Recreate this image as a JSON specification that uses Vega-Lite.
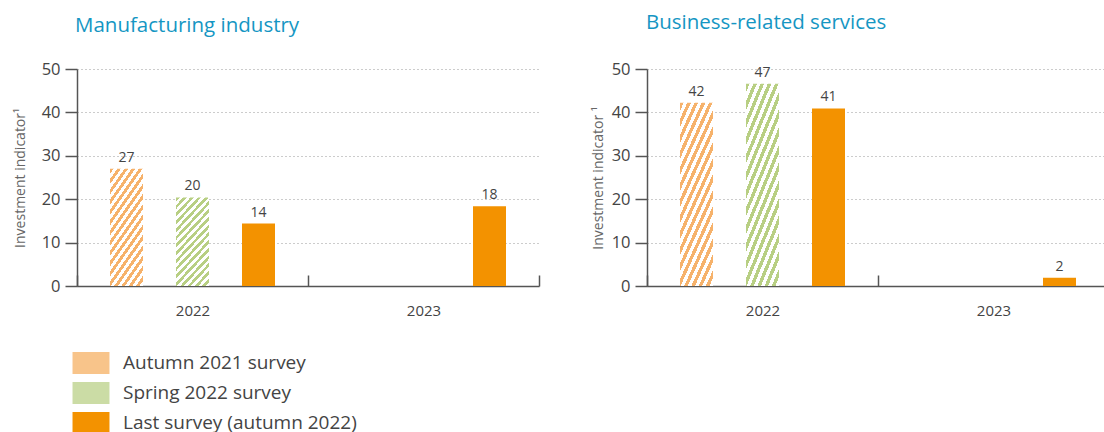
{
  "$schema": "https://vega.github.io/schema/vega-lite/v6.json",
  "padding": {"left": 13, "top": 12, "right": 0, "bottom": 0},
  "background": "white",
  "data": {"values": [
    {"panel": "Manufacturing industry", "year": "2022", "survey": "Autumn 2021 survey", "value": 27},
    {"panel": "Manufacturing industry", "year": "2022", "survey": "Spring 2022 survey", "value": 20.4},
    {"panel": "Manufacturing industry", "year": "2022", "survey": "Last survey (autumn 2022)", "value": 14.4},
    {"panel": "Manufacturing industry", "year": "2023", "survey": "Last survey (autumn 2022)", "value": 18.4},
    {"panel": "Business-related services", "year": "2022", "survey": "Autumn 2021 survey", "value": 42.2},
    {"panel": "Business-related services", "year": "2022", "survey": "Spring 2022 survey", "value": 46.6},
    {"panel": "Business-related services", "year": "2022", "survey": "Last survey (autumn 2022)", "value": 40.9},
    {"panel": "Business-related services", "year": "2023", "survey": "Last survey (autumn 2022)", "value": 1.9}
  ]},
  "config": {
    "font": "Open Sans",
    "view": {"stroke": null},
    "concat": {"spacing": 51},
    "title": {"anchor": "start", "frame": "group", "fontSize": 20.5, "color": "#1596c3", "fontWeight": "normal", "font": "Open Sans", "offset": 25},
    "axisX": {"title": null, "labelAngle": 0, "tickBand": "extent", "tickSize": -11, "tickColor": "#555", "tickWidth": 1.5, "domainColor": "#555", "domainWidth": 1.5, "labelFontSize": 15, "labelColor": "#444", "labelPadding": 28, "grid": false},
    "axisY": {"values": [0, 10, 20, 30, 40, 50], "grid": true, "gridDash": [1, 3], "gridColor": "#999", "gridWidth": 1, "domainColor": "#555", "domainWidth": 1.5, "tickColor": "#555", "tickSize": 12, "tickWidth": 1.5, "labelFontSize": 16.5, "labelColor": "#444", "labelPadding": 5, "titleFontSize": 14, "titleFontWeight": "normal", "titleColor": "#666"},
    "legend": {"orient": "none", "legendX": 3, "legendY": 283, "direction": "vertical", "title": null, "labelFontSize": 19, "labelColor": "#444", "labelFont": "Open Sans", "symbolType": "M-1.68,-1L1.68,-1L1.68,1L-1.68,1Z", "symbolSize": 484, "rowPadding": 8, "labelOffset": 21, "symbolStrokeWidth": 0, "labelLimit": 400}
  },
  "hconcat": [
    {
      "title": {"text": "Manufacturing industry", "dx": -2},
      "width": 462, "height": 217,
      "transform": [{"filter": "datum.panel === 'Manufacturing industry'"}],
      "encoding": {
        "x": {"field": "year", "type": "nominal", "scale": {"paddingInner": 0, "paddingOuter": 0}},
        "xOffset": {"field": "survey", "type": "nominal", "scale": {"domain": ["Autumn 2021 survey", "Spring 2022 survey", "Last survey (autumn 2022)"], "paddingInner": 0.5, "paddingOuter": 0.5}},
        "y": {"field": "value", "type": "quantitative", "scale": {"domain": [0, 50]}, "axis": {"title": "Investment indicator¹", "titlePadding": 14}}
      },
      "layer": [
        {"mark": {"type": "bar", "opacity": 0},
         "encoding": {"color": {"field": "survey", "type": "nominal",
           "scale": {"domain": ["Autumn 2021 survey", "Spring 2022 survey", "Last survey (autumn 2022)"], "range": ["#f8c48a", "#cbdca5", "#f39200"]},
           "legend": {"symbolOpacity": 1}}}},
        {"transform": [{"filter": "datum.survey === 'Autumn 2021 survey'"}],
         "mark": {"type": "bar", "color": {"gradient": "linear", "x1": 0, "y1": 0, "x2": 0.483, "y2": 1.207, "stops": [{"offset":0,"color":"#f6b26b"},{"offset":0.03125,"color":"#f6b26b"},{"offset":0.03125,"color":"#ffffff"},{"offset":0.0625,"color":"#ffffff"},{"offset":0.0625,"color":"#f6b26b"},{"offset":0.09375,"color":"#f6b26b"},{"offset":0.09375,"color":"#ffffff"},{"offset":0.125,"color":"#ffffff"},{"offset":0.125,"color":"#f6b26b"},{"offset":0.15625,"color":"#f6b26b"},{"offset":0.15625,"color":"#ffffff"},{"offset":0.1875,"color":"#ffffff"},{"offset":0.1875,"color":"#f6b26b"},{"offset":0.21875,"color":"#f6b26b"},{"offset":0.21875,"color":"#ffffff"},{"offset":0.25,"color":"#ffffff"},{"offset":0.25,"color":"#f6b26b"},{"offset":0.28125,"color":"#f6b26b"},{"offset":0.28125,"color":"#ffffff"},{"offset":0.3125,"color":"#ffffff"},{"offset":0.3125,"color":"#f6b26b"},{"offset":0.34375,"color":"#f6b26b"},{"offset":0.34375,"color":"#ffffff"},{"offset":0.375,"color":"#ffffff"},{"offset":0.375,"color":"#f6b26b"},{"offset":0.40625,"color":"#f6b26b"},{"offset":0.40625,"color":"#ffffff"},{"offset":0.4375,"color":"#ffffff"},{"offset":0.4375,"color":"#f6b26b"},{"offset":0.46875,"color":"#f6b26b"},{"offset":0.46875,"color":"#ffffff"},{"offset":0.5,"color":"#ffffff"},{"offset":0.5,"color":"#f6b26b"},{"offset":0.53125,"color":"#f6b26b"},{"offset":0.53125,"color":"#ffffff"},{"offset":0.5625,"color":"#ffffff"},{"offset":0.5625,"color":"#f6b26b"},{"offset":0.59375,"color":"#f6b26b"},{"offset":0.59375,"color":"#ffffff"},{"offset":0.625,"color":"#ffffff"},{"offset":0.625,"color":"#f6b26b"},{"offset":0.65625,"color":"#f6b26b"},{"offset":0.65625,"color":"#ffffff"},{"offset":0.6875,"color":"#ffffff"},{"offset":0.6875,"color":"#f6b26b"},{"offset":0.71875,"color":"#f6b26b"},{"offset":0.71875,"color":"#ffffff"},{"offset":0.75,"color":"#ffffff"},{"offset":0.75,"color":"#f6b26b"},{"offset":0.78125,"color":"#f6b26b"},{"offset":0.78125,"color":"#ffffff"},{"offset":0.8125,"color":"#ffffff"},{"offset":0.8125,"color":"#f6b26b"},{"offset":0.84375,"color":"#f6b26b"},{"offset":0.84375,"color":"#ffffff"},{"offset":0.875,"color":"#ffffff"},{"offset":0.875,"color":"#f6b26b"},{"offset":0.90625,"color":"#f6b26b"},{"offset":0.90625,"color":"#ffffff"},{"offset":0.9375,"color":"#ffffff"},{"offset":0.9375,"color":"#f6b26b"},{"offset":0.96875,"color":"#f6b26b"},{"offset":0.96875,"color":"#ffffff"},{"offset":1,"color":"#ffffff"}]}}},
        {"transform": [{"filter": "datum.survey === 'Spring 2022 survey'"}],
         "mark": {"type": "bar", "color": {"gradient": "linear", "x1": 0, "y1": 0, "x2": 0.483, "y2": 1.207, "stops": [{"offset":0,"color":"#b8cf83"},{"offset":0.03125,"color":"#b8cf83"},{"offset":0.03125,"color":"#ffffff"},{"offset":0.0625,"color":"#ffffff"},{"offset":0.0625,"color":"#b8cf83"},{"offset":0.09375,"color":"#b8cf83"},{"offset":0.09375,"color":"#ffffff"},{"offset":0.125,"color":"#ffffff"},{"offset":0.125,"color":"#b8cf83"},{"offset":0.15625,"color":"#b8cf83"},{"offset":0.15625,"color":"#ffffff"},{"offset":0.1875,"color":"#ffffff"},{"offset":0.1875,"color":"#b8cf83"},{"offset":0.21875,"color":"#b8cf83"},{"offset":0.21875,"color":"#ffffff"},{"offset":0.25,"color":"#ffffff"},{"offset":0.25,"color":"#b8cf83"},{"offset":0.28125,"color":"#b8cf83"},{"offset":0.28125,"color":"#ffffff"},{"offset":0.3125,"color":"#ffffff"},{"offset":0.3125,"color":"#b8cf83"},{"offset":0.34375,"color":"#b8cf83"},{"offset":0.34375,"color":"#ffffff"},{"offset":0.375,"color":"#ffffff"},{"offset":0.375,"color":"#b8cf83"},{"offset":0.40625,"color":"#b8cf83"},{"offset":0.40625,"color":"#ffffff"},{"offset":0.4375,"color":"#ffffff"},{"offset":0.4375,"color":"#b8cf83"},{"offset":0.46875,"color":"#b8cf83"},{"offset":0.46875,"color":"#ffffff"},{"offset":0.5,"color":"#ffffff"},{"offset":0.5,"color":"#b8cf83"},{"offset":0.53125,"color":"#b8cf83"},{"offset":0.53125,"color":"#ffffff"},{"offset":0.5625,"color":"#ffffff"},{"offset":0.5625,"color":"#b8cf83"},{"offset":0.59375,"color":"#b8cf83"},{"offset":0.59375,"color":"#ffffff"},{"offset":0.625,"color":"#ffffff"},{"offset":0.625,"color":"#b8cf83"},{"offset":0.65625,"color":"#b8cf83"},{"offset":0.65625,"color":"#ffffff"},{"offset":0.6875,"color":"#ffffff"},{"offset":0.6875,"color":"#b8cf83"},{"offset":0.71875,"color":"#b8cf83"},{"offset":0.71875,"color":"#ffffff"},{"offset":0.75,"color":"#ffffff"},{"offset":0.75,"color":"#b8cf83"},{"offset":0.78125,"color":"#b8cf83"},{"offset":0.78125,"color":"#ffffff"},{"offset":0.8125,"color":"#ffffff"},{"offset":0.8125,"color":"#b8cf83"},{"offset":0.84375,"color":"#b8cf83"},{"offset":0.84375,"color":"#ffffff"},{"offset":0.875,"color":"#ffffff"},{"offset":0.875,"color":"#b8cf83"},{"offset":0.90625,"color":"#b8cf83"},{"offset":0.90625,"color":"#ffffff"},{"offset":0.9375,"color":"#ffffff"},{"offset":0.9375,"color":"#b8cf83"},{"offset":0.96875,"color":"#b8cf83"},{"offset":0.96875,"color":"#ffffff"},{"offset":1,"color":"#ffffff"}]}}},
        {"transform": [{"filter": "datum.survey === 'Last survey (autumn 2022)'"}],
         "mark": {"type": "bar", "color": "#f39200"}},
        {"mark": {"type": "text", "dy": -7, "baseline": "alphabetic", "fontSize": 14, "color": "#444"},
         "encoding": {"text": {"field": "value", "type": "quantitative", "format": ".0f"}}}
      ]
    },
    {
      "title": {"text": "Business-related services", "offset": 28, "dx": -1},
      "width": 462, "height": 217,
      "transform": [{"filter": "datum.panel === 'Business-related services'"}],
      "encoding": {
        "x": {"field": "year", "type": "nominal", "scale": {"paddingInner": 0, "paddingOuter": 0}},
        "xOffset": {"field": "survey", "type": "nominal", "scale": {"domain": ["Autumn 2021 survey", "Spring 2022 survey", "Last survey (autumn 2022)"], "paddingInner": 0.5, "paddingOuter": 0.5}},
        "y": {"field": "value", "type": "quantitative", "scale": {"domain": [0, 50]}, "axis": {"title": "Investment indicator ¹", "titlePadding": 6}}
      },
      "layer": [
        {"transform": [{"filter": "datum.survey === 'Autumn 2021 survey'"}],
         "mark": {"type": "bar", "color": {"gradient": "linear", "x1": 0, "y1": 0, "x2": 0.483, "y2": 1.207, "stops": [{"offset":0,"color":"#f6b26b"},{"offset":0.03125,"color":"#f6b26b"},{"offset":0.03125,"color":"#ffffff"},{"offset":0.0625,"color":"#ffffff"},{"offset":0.0625,"color":"#f6b26b"},{"offset":0.09375,"color":"#f6b26b"},{"offset":0.09375,"color":"#ffffff"},{"offset":0.125,"color":"#ffffff"},{"offset":0.125,"color":"#f6b26b"},{"offset":0.15625,"color":"#f6b26b"},{"offset":0.15625,"color":"#ffffff"},{"offset":0.1875,"color":"#ffffff"},{"offset":0.1875,"color":"#f6b26b"},{"offset":0.21875,"color":"#f6b26b"},{"offset":0.21875,"color":"#ffffff"},{"offset":0.25,"color":"#ffffff"},{"offset":0.25,"color":"#f6b26b"},{"offset":0.28125,"color":"#f6b26b"},{"offset":0.28125,"color":"#ffffff"},{"offset":0.3125,"color":"#ffffff"},{"offset":0.3125,"color":"#f6b26b"},{"offset":0.34375,"color":"#f6b26b"},{"offset":0.34375,"color":"#ffffff"},{"offset":0.375,"color":"#ffffff"},{"offset":0.375,"color":"#f6b26b"},{"offset":0.40625,"color":"#f6b26b"},{"offset":0.40625,"color":"#ffffff"},{"offset":0.4375,"color":"#ffffff"},{"offset":0.4375,"color":"#f6b26b"},{"offset":0.46875,"color":"#f6b26b"},{"offset":0.46875,"color":"#ffffff"},{"offset":0.5,"color":"#ffffff"},{"offset":0.5,"color":"#f6b26b"},{"offset":0.53125,"color":"#f6b26b"},{"offset":0.53125,"color":"#ffffff"},{"offset":0.5625,"color":"#ffffff"},{"offset":0.5625,"color":"#f6b26b"},{"offset":0.59375,"color":"#f6b26b"},{"offset":0.59375,"color":"#ffffff"},{"offset":0.625,"color":"#ffffff"},{"offset":0.625,"color":"#f6b26b"},{"offset":0.65625,"color":"#f6b26b"},{"offset":0.65625,"color":"#ffffff"},{"offset":0.6875,"color":"#ffffff"},{"offset":0.6875,"color":"#f6b26b"},{"offset":0.71875,"color":"#f6b26b"},{"offset":0.71875,"color":"#ffffff"},{"offset":0.75,"color":"#ffffff"},{"offset":0.75,"color":"#f6b26b"},{"offset":0.78125,"color":"#f6b26b"},{"offset":0.78125,"color":"#ffffff"},{"offset":0.8125,"color":"#ffffff"},{"offset":0.8125,"color":"#f6b26b"},{"offset":0.84375,"color":"#f6b26b"},{"offset":0.84375,"color":"#ffffff"},{"offset":0.875,"color":"#ffffff"},{"offset":0.875,"color":"#f6b26b"},{"offset":0.90625,"color":"#f6b26b"},{"offset":0.90625,"color":"#ffffff"},{"offset":0.9375,"color":"#ffffff"},{"offset":0.9375,"color":"#f6b26b"},{"offset":0.96875,"color":"#f6b26b"},{"offset":0.96875,"color":"#ffffff"},{"offset":1,"color":"#ffffff"}]}}},
        {"transform": [{"filter": "datum.survey === 'Spring 2022 survey'"}],
         "mark": {"type": "bar", "color": {"gradient": "linear", "x1": 0, "y1": 0, "x2": 0.483, "y2": 1.207, "stops": [{"offset":0,"color":"#b8cf83"},{"offset":0.03125,"color":"#b8cf83"},{"offset":0.03125,"color":"#ffffff"},{"offset":0.0625,"color":"#ffffff"},{"offset":0.0625,"color":"#b8cf83"},{"offset":0.09375,"color":"#b8cf83"},{"offset":0.09375,"color":"#ffffff"},{"offset":0.125,"color":"#ffffff"},{"offset":0.125,"color":"#b8cf83"},{"offset":0.15625,"color":"#b8cf83"},{"offset":0.15625,"color":"#ffffff"},{"offset":0.1875,"color":"#ffffff"},{"offset":0.1875,"color":"#b8cf83"},{"offset":0.21875,"color":"#b8cf83"},{"offset":0.21875,"color":"#ffffff"},{"offset":0.25,"color":"#ffffff"},{"offset":0.25,"color":"#b8cf83"},{"offset":0.28125,"color":"#b8cf83"},{"offset":0.28125,"color":"#ffffff"},{"offset":0.3125,"color":"#ffffff"},{"offset":0.3125,"color":"#b8cf83"},{"offset":0.34375,"color":"#b8cf83"},{"offset":0.34375,"color":"#ffffff"},{"offset":0.375,"color":"#ffffff"},{"offset":0.375,"color":"#b8cf83"},{"offset":0.40625,"color":"#b8cf83"},{"offset":0.40625,"color":"#ffffff"},{"offset":0.4375,"color":"#ffffff"},{"offset":0.4375,"color":"#b8cf83"},{"offset":0.46875,"color":"#b8cf83"},{"offset":0.46875,"color":"#ffffff"},{"offset":0.5,"color":"#ffffff"},{"offset":0.5,"color":"#b8cf83"},{"offset":0.53125,"color":"#b8cf83"},{"offset":0.53125,"color":"#ffffff"},{"offset":0.5625,"color":"#ffffff"},{"offset":0.5625,"color":"#b8cf83"},{"offset":0.59375,"color":"#b8cf83"},{"offset":0.59375,"color":"#ffffff"},{"offset":0.625,"color":"#ffffff"},{"offset":0.625,"color":"#b8cf83"},{"offset":0.65625,"color":"#b8cf83"},{"offset":0.65625,"color":"#ffffff"},{"offset":0.6875,"color":"#ffffff"},{"offset":0.6875,"color":"#b8cf83"},{"offset":0.71875,"color":"#b8cf83"},{"offset":0.71875,"color":"#ffffff"},{"offset":0.75,"color":"#ffffff"},{"offset":0.75,"color":"#b8cf83"},{"offset":0.78125,"color":"#b8cf83"},{"offset":0.78125,"color":"#ffffff"},{"offset":0.8125,"color":"#ffffff"},{"offset":0.8125,"color":"#b8cf83"},{"offset":0.84375,"color":"#b8cf83"},{"offset":0.84375,"color":"#ffffff"},{"offset":0.875,"color":"#ffffff"},{"offset":0.875,"color":"#b8cf83"},{"offset":0.90625,"color":"#b8cf83"},{"offset":0.90625,"color":"#ffffff"},{"offset":0.9375,"color":"#ffffff"},{"offset":0.9375,"color":"#b8cf83"},{"offset":0.96875,"color":"#b8cf83"},{"offset":0.96875,"color":"#ffffff"},{"offset":1,"color":"#ffffff"}]}}},
        {"transform": [{"filter": "datum.survey === 'Last survey (autumn 2022)'"}],
         "mark": {"type": "bar", "color": "#f39200"}},
        {"mark": {"type": "text", "dy": -7, "baseline": "alphabetic", "fontSize": 14, "color": "#444"},
         "encoding": {"text": {"field": "value", "type": "quantitative", "format": ".0f"}}}
      ]
    }
  ]
}
